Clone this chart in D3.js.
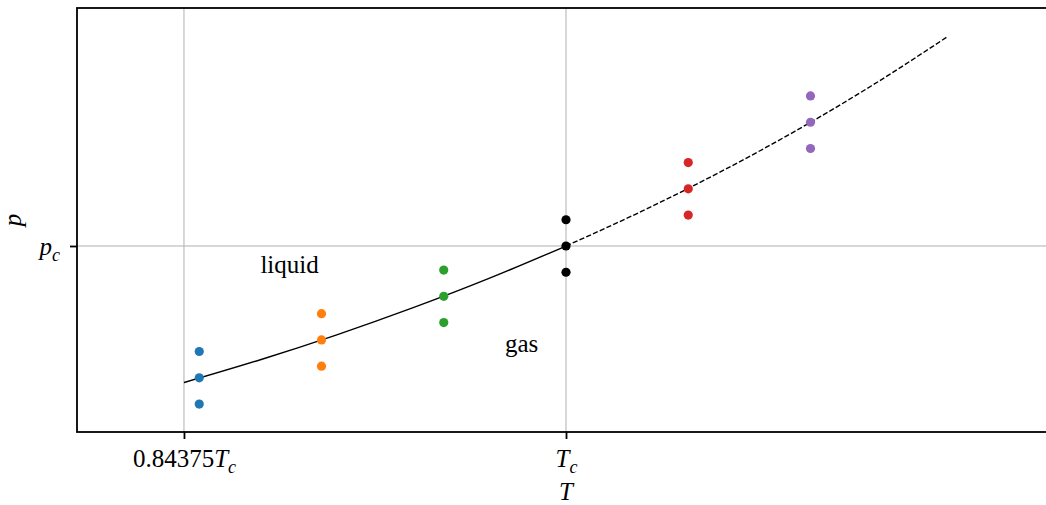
<!DOCTYPE html>
<html>
<head>
<meta charset="utf-8">
<script src="https://cdn.jsdelivr.net/npm/d3@7"></script>
<style>
  body { margin: 0; background: #fff; }
  svg { display: block; }
</style>
</head>
<body>
<svg id="chart" width="1046" height="505"></svg>
<script>
// Sampled temperatures (units of T_c) and pressures (units of p_c)
const temperatures  = [0.85, 0.90, 0.95, 1.00, 1.05, 1.10];
const pressureUpper = [0.526, 0.696, 0.892, 1.118, 1.375, 1.674];
const pressureOnLine = [0.408, 0.578, 0.774, 1.000, 1.257, 1.556];
const pressureLower = [0.290, 0.460, 0.656, 0.882, 1.139, 1.438];

// Coexistence line below the critical point (solid)
const coexistT = [0.84375, 0.875, 0.90625, 0.9375, 0.96875, 1.0];
const coexistP = [0.3865, 0.4891, 0.6009, 0.7228, 0.8554, 1.0];

// Continuation beyond the critical point (dashed)
const beyondT = [1.0, 1.03125, 1.0625, 1.09375, 1.125, 1.15625];
const beyondP = [1.0, 1.1575, 1.3292, 1.5162, 1.7200, 1.9420];

// Axis ticks
const xTickValues = [0.84375, 1.0];
const xTickPrefix = ["0.84375", ""];
const yTickValues = [1.0];

// Phase region labels
const regionNames = ["liquid", "gas"];
const regionT = [0.875, 0.975];
const regionP = [0.879, 0.524];

const palette = ["#1f77b4", "#ff7f0e", "#2ca02c", "#000000", "#d62728", "#9467bd"];
const serif = "'Liberation Serif', 'Times New Roman', serif";

const svg = d3.select("#chart");
const plotLeft = 77, plotRight = 1055, plotTop = 8, plotBottom = 432;

const x = d3.scaleLinear().domain([0.8, 1.2]).range([plotLeft, plotRight]);
const y = d3.scaleLinear().domain([0.1644, 2.0692]).range([plotBottom, plotTop]);

// Grid lines at the tick positions
const grid = svg.append("g").attr("stroke", "#b0b0b0").attr("stroke-width", 1);
grid.selectAll("line.v").data(xTickValues).join("line")
  .attr("x1", d => x(d)).attr("x2", d => x(d))
  .attr("y1", plotTop).attr("y2", plotBottom);
grid.selectAll("line.h").data(yTickValues).join("line")
  .attr("x1", plotLeft).attr("x2", plotRight)
  .attr("y1", d => y(d)).attr("y2", d => y(d));

// Curves
const line = d3.line().x(d => x(d[0])).y(d => y(d[1])).curve(d3.curveMonotoneX);
svg.append("path")
  .datum(coexistT.map((t, i) => [t, coexistP[i]]))
  .attr("d", line).attr("fill", "none")
  .attr("stroke", "#000").attr("stroke-width", 1.4);
svg.append("path")
  .datum(beyondT.map((t, i) => [t, beyondP[i]]))
  .attr("d", line).attr("fill", "none")
  .attr("stroke", "#000").attr("stroke-width", 1.4)
  .attr("stroke-dasharray", "5.2,2.2");

// Sample points
const pts = [];
temperatures.forEach((t, i) => {
  [pressureUpper[i], pressureOnLine[i], pressureLower[i]].forEach(p => pts.push({ t, p, i }));
});
svg.append("g").selectAll("circle").data(pts).join("circle")
  .attr("cx", d => x(d.t)).attr("cy", d => y(d.p)).attr("r", 4.6)
  .attr("fill", d => palette[d.i]);

// Region labels
svg.append("g").selectAll("text").data(regionNames).join("text")
  .attr("x", (d, i) => x(regionT[i])).attr("y", (d, i) => y(regionP[i]))
  .attr("font-family", serif).attr("font-size", 25).attr("fill", "#000").text(d => d);

// Axes
const xAxis = svg.append("g").attr("transform", `translate(0,${plotBottom})`)
  .call(d3.axisBottom(x).tickValues(xTickValues).tickSize(7).tickPadding(8).tickFormat(() => ""));
xAxis.select(".domain").remove();
xAxis.selectAll(".tick line").attr("stroke", "#000").attr("stroke-width", 1.8);
xAxis.selectAll(".tick text").each(function (d, i) {
  const t = d3.select(this).attr("font-size", 25).attr("dy", null).attr("y", 35)
    .attr("font-family", serif).attr("fill", "#000");
  t.append("tspan").text(xTickPrefix[i]);
  t.append("tspan").attr("font-style", "italic").text("T");
  t.append("tspan").attr("font-style", "italic").attr("font-size", 18).attr("dy", 6).text("c");
});

const yAxis = svg.append("g").attr("transform", `translate(${plotLeft},0)`)
  .call(d3.axisLeft(y).tickValues(yTickValues).tickSize(7).tickPadding(10).tickFormat(() => ""));
yAxis.select(".domain").remove();
yAxis.selectAll(".tick line").attr("stroke", "#000").attr("stroke-width", 1.8);
yAxis.selectAll(".tick text").each(function () {
  const t = d3.select(this).attr("font-size", 25).attr("dy", null).attr("y", 9)
    .attr("x", -17).attr("font-family", serif).attr("fill", "#000");
  t.append("tspan").attr("font-style", "italic").text("p");
  t.append("tspan").attr("font-style", "italic").attr("font-size", 18).attr("dy", 6).text("c");
});

// Frame
svg.append("rect")
  .attr("x", plotLeft).attr("y", plotTop)
  .attr("width", plotRight - plotLeft).attr("height", plotBottom - plotTop)
  .attr("fill", "none").attr("stroke", "#000").attr("stroke-width", 1.8);

// Axis titles
svg.append("text").attr("x", x(1.0)).attr("y", 500).attr("text-anchor", "middle")
  .attr("font-family", serif).attr("font-size", 25).attr("font-style", "italic").text("T");
svg.append("text").attr("transform", `translate(21,${(plotTop + plotBottom) / 2}) rotate(-90)`)
  .attr("text-anchor", "middle").attr("font-family", serif)
  .attr("font-size", 25).attr("font-style", "italic").text("p");
</script>
</body>
</html>
